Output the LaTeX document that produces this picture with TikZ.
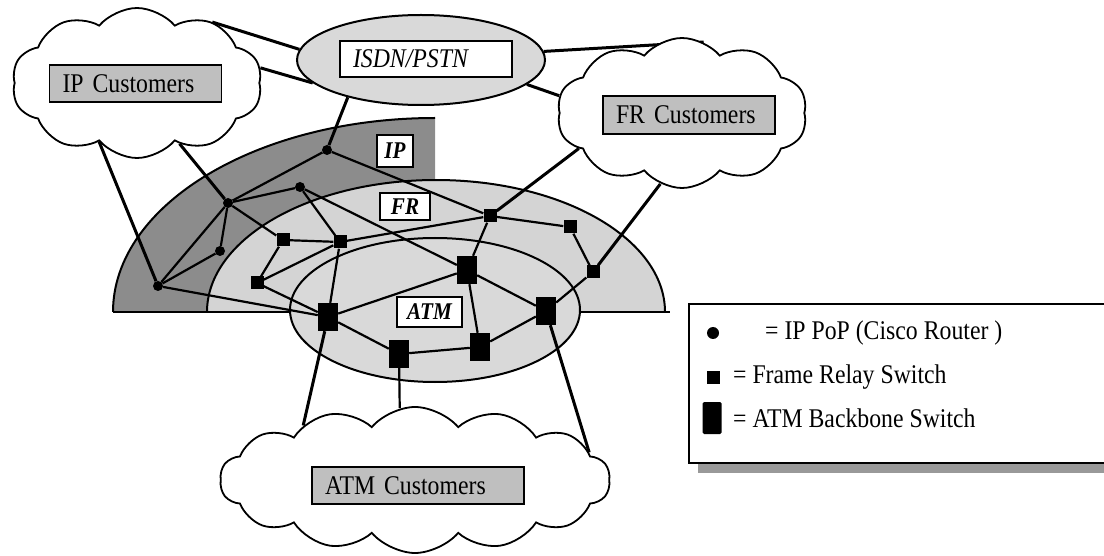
\documentclass[tikz,border=0pt]{standalone}
\usepackage{fontspec}
\setmainfont{Liberation Serif}[FakeStretch=0.88]
\usetikzlibrary{shapes.symbols,shapes.geometric}
\pgfdeclarelayer{zones}
\pgfdeclarelayer{links}
\pgfsetlayers{zones,links,main}
\definecolor{ipzone}{gray}{0.55}
\definecolor{frzone}{gray}{0.83}
\definecolor{atmzone}{gray}{0.85}
\definecolor{isdnfill}{gray}{0.85}
\definecolor{custfill}{gray}{0.75}
\definecolor{shadowgray}{gray}{0.6}
\begin{document}
\begin{tikzpicture}[x=1pt,y=-1pt,
  router/.style={circle,fill=black,inner sep=0pt,minimum size=10pt},
  frsw/.style={rectangle,fill=black,inner sep=0pt,minimum size=13pt},
  atmsw/.style={rectangle,fill=black,inner sep=0pt,minimum width=20pt,minimum height=28pt},
  custcloud/.style={cloud,draw,fill=white,line width=1.8pt,cloud ignores aspect,inner sep=0pt,cloud puff arc=100},
  namebox/.style={rectangle,draw,line width=1.6pt,fill=custfill,inner xsep=13pt,inner ysep=0pt,
    align=left,font=\fontsize{27}{28}\selectfont},
  zonelabel/.style={rectangle,draw,line width=1.6pt,fill=white,inner sep=0pt,
    font=\fontsize{24}{24}\selectfont\bfseries\itshape},
  mesh/.style={line width=2.2pt},
  trunk/.style={line width=3pt},
  legtext/.style={anchor=west,inner sep=0pt,font=\fontsize{27}{28}\selectfont}]
\useasboundingbox (0,0) rectangle (1104,556);

% nested service zones
\begin{pgfonlayer}{zones}
  \begin{scope}
    \clip (0,0) rectangle (435,312);
    \fill[ipzone] (435,312) ellipse [x radius=322,y radius=194];
    \draw[line width=2pt] (435,312) ellipse [x radius=322,y radius=194];
  \end{scope}
  \begin{scope}
    \clip (0,0) rectangle (1104,312);
    \fill[frzone] (436,312) ellipse [x radius=229,y radius=132];
    \draw[line width=2pt] (436,312) ellipse [x radius=229,y radius=132];
  \end{scope}
  \draw[line width=2.4pt] (113,312) -- (670,312);
  \fill[atmzone] (435,310) ellipse [x radius=145,y radius=72];
  \draw[line width=2pt] (435,310) ellipse [x radius=145,y radius=72];
\end{pgfonlayer}

% customer clouds and the ISDN/PSTN network
\node[custcloud,cloud puffs=10,minimum width=250pt,minimum height=150pt] (ipc) at (137,83) {};
\node[custcloud,cloud puffs=10,minimum width=250pt,minimum height=150pt] (frc) at (682,113) {};
\node[custcloud,cloud puffs=14,minimum width=390pt,minimum height=146pt] (atmc) at (415,480) {};
\node[ellipse,draw,line width=2pt,fill=isdnfill,minimum width=248pt,minimum height=90pt] (isdn) at (421,60) {};

\node[namebox,text width=146pt,minimum height=37pt] (iplbl) at (135.5,83.5) {IP Customers};
\node[namebox,text width=146pt,minimum height=38pt] (frlbl) at (689,115) {FR Customers};
\node[namebox,text width=186pt,minimum height=37pt] (atmlbl) at (418,485.5) {ATM Customers};
\node[namebox,fill=white,text width=146pt,minimum height=36pt,font=\fontsize{27}{28}\selectfont\itshape] (isdnlbl) at (426,59) {ISDN/PSTN};

% zone captions
\node[zonelabel,minimum width=36pt,minimum height=32pt] (ipz) at (395,151) {IP};
\node[zonelabel,minimum width=50pt,minimum height=27pt] (frz) at (405,206.5) {FR};
\node[zonelabel,minimum width=65pt,minimum height=30pt] (atmz) at (429.5,312) {ATM};

% IP routers
\node[router] (r1) at (327,150) {};
\node[router] (r2) at (300,187) {};
\node[router] (r3) at (228,203) {};
\node[router] (r4) at (220,251) {};
\node[router] (r5) at (158,286) {};
% frame relay switches
\node[frsw] (f1) at (283,240) {};
\node[frsw] (f2) at (340,242) {};
\node[frsw] (f3) at (257,283) {};
\node[frsw] (f4) at (490,216) {};
\node[frsw] (f5) at (570,227) {};
\node[frsw] (f6) at (593,272) {};
% ATM backbone switches
\node[atmsw] (a1) at (467,270) {};
\node[atmsw] (a2) at (546,311) {};
\node[atmsw] (a3) at (480,347) {};
\node[atmsw] (a4) at (399,354) {};
\node[atmsw] (a5) at (328,317) {};

\begin{pgfonlayer}{links}
  % backbone mesh
  \draw[mesh] (r1) -- (r3);
  \draw[mesh] (r1) -- (f4);
  \draw[mesh] (r2) -- (r3);
  \draw[mesh] (r2) -- (f2);
  \draw[mesh] (r2) -- (a1);
  \draw[mesh] (r3) -- (r4);
  \draw[mesh] (r3) -- (r5);
  \draw[mesh] (r3) -- (f1);
  \draw[mesh] (r4) -- (r5);
  \draw[mesh] (r5) -- (a5);
  \draw[mesh] (f1) -- (f2);
  \draw[mesh] (f1) -- (f3);
  \draw[mesh] (f3) -- (f2);
  \draw[mesh] (f3) -- (a5);
  \draw[mesh] (f2) -- (a5);
  \draw[mesh] (f2) -- (f4);
  \draw[mesh] (f4) -- (a1);
  \draw[mesh] (f4) -- (f5);
  \draw[mesh] (f5) -- (f6);
  \draw[mesh] (f6) -- (a2);
  \draw[mesh] (a1) -- (a2);
  \draw[mesh] (a1) -- (a3);
  \draw[mesh] (a1) -- (a5);
  \draw[mesh] (a3) -- (a4);
  \draw[mesh] (a3) -- (a2);
  \draw[mesh] (a4) -- (a5);
  % access links
  \draw[trunk] (ipc.39) -- (isdn.175);
  \draw[trunk] (ipc.7) -- (isdn.192);
  \draw[trunk] (isdn.4) -- (frc.73);
  \draw[trunk] (isdn.347) -- (frc.172);
  \draw[trunk] (r1) -- (isdn.207);
  \draw[trunk] (r3) -- (ipc.305);
  \draw[trunk] (r5) -- (ipc.237);
  \draw[trunk] (f4) -- (frc.199);
  \draw[trunk] (f6) -- (frc.253);
  \draw[trunk] (a5) -- (atmc.154);
  \draw[line width=2.2pt] (a4) -- (atmc.102);
  \draw[trunk] (a2) -- (atmc.9.5);
\end{pgfonlayer}

% legend
\fill[shadowgray] (698,313) rectangle (1114,473);
\node[rectangle,draw,line width=2pt,fill=white,minimum width=422pt,minimum height=159pt,anchor=north west] (legend) at (688,303) {};
\node[circle,fill=black,inner sep=0pt,minimum size=12pt] (kr) at (713,333) {};
\node[rectangle,fill=black,inner sep=0pt,minimum size=13pt] (kf) at (713,377) {};
\node[rectangle,fill=black,inner sep=0pt,minimum width=19pt,minimum height=32pt,rounded corners=1.5pt] (ka) at (712,418) {};
\node[legtext] (tr) at (765,333) {= IP PoP (Cisco Router )};
\node[legtext] (tf) at (733,377) {= Frame Relay Switch};
\node[legtext] (ta) at (733,418) {= ATM Backbone Switch};
\end{tikzpicture}
\end{document}
